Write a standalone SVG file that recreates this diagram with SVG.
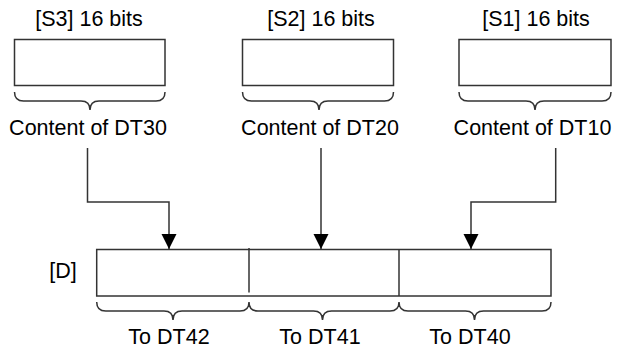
<svg xmlns="http://www.w3.org/2000/svg" width="617" height="351" viewBox="0 0 617 351">
<style>
.box{fill:#fff;stroke:#333;stroke-width:1.5}
.brace{fill:none;stroke:#333;stroke-width:1.5}
.ln{fill:none;stroke:#333;stroke-width:1.5}
text{font-family:"Liberation Sans",Arial,sans-serif;font-size:21.5px;fill:#000;text-anchor:middle}
</style>
<defs>
<marker id="ah" markerUnits="userSpaceOnUse" markerWidth="16" markerHeight="16" refX="15" refY="7.5" orient="auto">
<path d="M0,0 L15,7.5 L0,15 Z" fill="#000"/>
</marker>
</defs>
<rect width="617" height="351" fill="#fff"/>
<g id="s3">
<text x="89" y="26">[S3] 16 bits</text>
<rect class="box" x="14.5" y="39.5" width="150.5" height="46"/>
<path class="brace" d="M14.5,92 Q14.5,101 23.5,101 L81,101 Q90,101 90,110 Q90,101 99,101 L156,101 Q165,101 165,92"/>
<text x="88" y="135">Content of DT30</text>
</g>
<g id="s2">
<text x="321" y="26">[S2] 16 bits</text>
<rect class="box" x="242.5" y="39.5" width="151" height="46"/>
<path class="brace" d="M242.5,92 Q242.5,101 251.5,101 L310,101 Q319,101 319,110 Q319,101 328,101 L384.5,101 Q393.5,101 393.5,92"/>
<text x="320" y="135">Content of DT20</text>
</g>
<g id="s1">
<text x="536" y="26">[S1] 16 bits</text>
<rect class="box" x="459" y="39.5" width="152" height="46"/>
<path class="brace" d="M459,92 Q459,101 468,101 L526,101 Q535,101 535,110 Q535,101 544,101 L602,101 Q611,101 611,92"/>
<text x="532.5" y="135">Content of DT10</text>
</g>
<g id="d">
<text x="63" y="278">[D]</text>
<rect class="box" x="96.7" y="249.5" width="454.3" height="46.5"/>
<line class="ln" x1="249" y1="248" x2="249" y2="292.5"/>
<line class="ln" x1="399" y1="249.5" x2="399" y2="296"/>
<path class="brace" d="M96.7,302 Q96.7,311 105.7,311 L164,311 Q173,311 173,320 Q173,311 182,311 L240,311 Q249,311 249,302 Q249,311 258,311 L313.5,311 Q322.5,311 322.5,320 Q322.5,311 331.5,311 L390,311 Q399,311 399,302 Q399,311 408,311 L465.5,311 Q474.5,311 474.5,320 Q474.5,311 483.5,311 L542,311 Q551,311 551,302"/>
<text x="169" y="344">To DT42</text>
<text x="320" y="344">To DT41</text>
<text x="470" y="344">To DT40</text>
</g>
<g id="connectors">
<path class="ln" d="M87.5,148 L87.5,202 L169,202 L169,249" marker-end="url(#ah)"/>
<path class="ln" d="M321,148 L321,249" marker-end="url(#ah)"/>
<path class="ln" d="M555.7,148 L555.7,202 L471,202 L471,249" marker-end="url(#ah)"/>
</g>
</svg>
